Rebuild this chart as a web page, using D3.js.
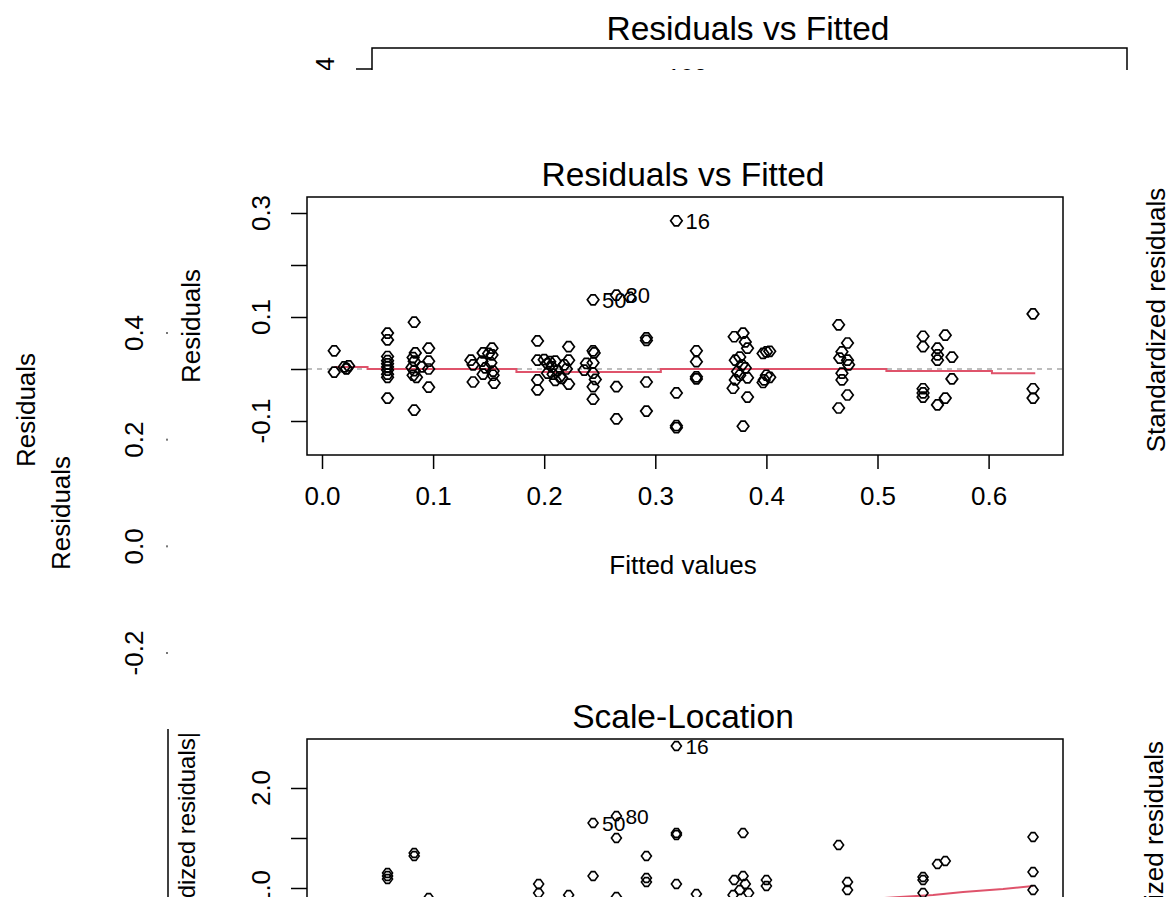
<!DOCTYPE html>
<html>
<head>
<meta charset="utf-8">
<script src="https://cdn.jsdelivr.net/npm/d3@7"></script>
<style>
  body { margin: 0; background: #fff; }
  text { font-family: "Liberation Sans", Arial, sans-serif; fill: #000; }
</style>
</head>
<body>
<svg id="chart" width="1175" height="897"></svg>
<script>
// ---- Residuals vs Fitted: fitted values and residuals ----
const fitted = [
  0.011, 0.011,
  0.020, 0.022, 0.024, 0.022,
  0.059, 0.059, 0.059, 0.059, 0.059, 0.059, 0.059, 0.059, 0.059, 0.059,
  0.083, 0.084, 0.082, 0.083, 0.081, 0.083, 0.082, 0.085, 0.083,
  0.090,
  0.096, 0.096, 0.096, 0.096,
  0.134, 0.136, 0.136,
  0.145, 0.144, 0.145, 0.147,
  0.153, 0.153, 0.152, 0.154, 0.154, 0.155, 0.150,
  0.194, 0.194, 0.194, 0.194,
  0.200, 0.203, 0.205, 0.207, 0.210, 0.212, 0.208, 0.214, 0.216, 0.210, 0.203, 0.218,
  0.222, 0.222, 0.222, 0.220,
  0.238, 0.236,
  0.244, 0.244, 0.245, 0.244, 0.244, 0.246, 0.244, 0.244,
  0.265, 0.265, 0.265,
  0.277,
  0.292, 0.292, 0.292, 0.292,
  0.319, 0.319, 0.319, 0.319,
  0.337, 0.337, 0.337, 0.337,
  0.371, 0.379, 0.381, 0.383, 0.372, 0.376, 0.381, 0.372, 0.370, 0.376, 0.383, 0.383, 0.379, 0.378, 0.374,
  0.400, 0.397, 0.403, 0.400, 0.398, 0.397, 0.403,
  0.465, 0.473, 0.468, 0.466, 0.473, 0.468, 0.468, 0.473, 0.465, 0.474,
  0.541, 0.541, 0.561, 0.554, 0.554, 0.554, 0.567, 0.567, 0.541, 0.541, 0.554, 0.561, 0.541,
  0.640, 0.640, 0.640
];
const residuals = [
  0.035, -0.006,
  0.004, 0.001, 0.006, 0.000,
  0.069, 0.056, 0.024, 0.016, 0.010, 0.004, -0.002, -0.010, -0.016, -0.056,
  0.090, 0.031, 0.022, 0.015, 0.003, -0.003, -0.012, -0.016, -0.079,
  0.004,
  0.040, 0.015, 0.000, -0.035,
  0.017, 0.008, -0.025,
  0.031, 0.015, -0.010, 0.002,
  0.040, 0.027, 0.012, -0.004, -0.012, -0.027, 0.030,
  0.054, 0.017, -0.021, -0.040,
  0.018, 0.010, 0.014, 0.004, 0.015, -0.003, -0.010, -0.015, -0.018, -0.022, -0.008, 0.008,
  0.043, 0.017, -0.029, 0.000,
  0.011, -0.002,
  0.133, 0.035, 0.031, 0.012, -0.008, -0.020, -0.034, -0.058,
  0.142, -0.034, -0.096,
  0.138,
  0.060, 0.055, -0.025, -0.081,
  0.285, -0.046, -0.109, -0.113,
  0.035, 0.014, -0.015, -0.019,
  0.062, 0.069, 0.052, 0.040, 0.017, 0.023, 0.002, -0.021, -0.037, -0.012, -0.017, -0.054, -0.110, 0.008, -0.005,
  0.033, 0.030, 0.034, -0.012, -0.021, -0.026, -0.016,
  0.085, 0.050, 0.033, 0.021, 0.017, -0.008, -0.021, -0.050, -0.075, 0.008,
  0.063, 0.043, 0.065, 0.040, 0.027, 0.017, 0.023, -0.019, -0.038, -0.054, -0.069, -0.056, -0.046,
  0.106, -0.038, -0.056
];
// labelled observations
const rvfLabelIds = ["16", "50", "80"];
const rvfLabelFitted = [0.319, 0.244, 0.265];
const rvfLabelResid = [0.285, 0.133, 0.142];
// smoother through the residuals
const smoothFitted = [0.011, 0.041, 0.041, 0.175, 0.175, 0.305, 0.305, 0.508, 0.508, 0.603, 0.603, 0.642];
const smoothResid  = [0.004, 0.004, 0.000, 0.000, -0.006, -0.006, 0.000, 0.000, -0.004, -0.004, -0.008, -0.008];

const xTicks = [0, 0.1, 0.2, 0.3, 0.4, 0.5, 0.6];
const rvfYTicks = [-0.1, 0, 0.1, 0.2, 0.3];
const rvfYLabels = [-0.1, 0.1, 0.3];

// ---- Scale-Location: sqrt(|standardized residuals|) ----
const slFitted = [
  0.059, 0.059, 0.059, 0.083, 0.083, 0.096, 0.195, 0.195, 0.222,
  0.244, 0.244, 0.265, 0.265, 0.265, 0.292, 0.292, 0.292,
  0.319, 0.319, 0.319, 0.319, 0.337,
  0.379, 0.371, 0.379, 0.381, 0.376, 0.384, 0.370,
  0.400, 0.400, 0.465, 0.473, 0.473,
  0.541, 0.541, 0.541, 0.554, 0.561,
  0.640, 0.640, 0.640
];
const slValue = [
  1.15, 1.12, 1.09, 1.35, 1.32, 0.90, 1.04, 0.95, 0.93,
  1.65, 1.12, 1.72, 1.50, 0.91, 1.32, 1.10, 1.06,
  2.42, 1.55, 1.53, 1.04, 0.94,
  1.55, 1.08, 1.12, 1.04, 0.98, 0.95, 0.93,
  1.08, 1.02, 1.43, 1.06, 0.98,
  1.11, 1.08, 0.95, 1.24, 1.27,
  1.51, 1.16, 0.98
];
const slLabelIds = ["16", "50", "80"];
const slLabelFitted = [0.319, 0.244, 0.265];
const slLabelValue = [2.42, 1.65, 1.72];
const slSmoothFitted = [0.45, 0.52, 0.55, 0.577, 0.613, 0.640];
const slSmoothValue  = [0.86, 0.91, 0.93, 0.96, 0.99, 1.02];
const slYTicks = [1.0, 1.5, 2.0];
const slYLabels = [1.0, 2.0];

// ---- axis of the panel behind, on the left ----
const backTicks = [-0.2, 0.0, 0.2, 0.4];

const svg = d3.select("#chart");
svg.append("rect").attr("width", 1175).attr("height", 897).attr("fill", "#fff");

// R-style numbers: one decimal, ASCII hyphen for negatives
const fmt = d => d3.format(".1f")(d).replace("\u2212", "-");
const RED = "#DF536B";

// open point symbol
function pointPath(w, h) {
  const f = w * 0.35;
  return `M${-w},0L${-f},${-h}L${f},${-h}L${w},0L${f},${h}L${-f},${h}Z`;
}

// rotated (las = 0) tick labels on a left axis
function leftLabels(g, scale, values, xBase, size) {
  g.selectAll(null).data(values).join("text")
    .attr("transform", d => `translate(${xBase},${scale(d)}) rotate(-90)`)
    .attr("text-anchor", "middle")
    .attr("font-size", size)
    .text(d => fmt(d));
}

// ================= panel behind, top (clipped) =================
svg.append("clipPath").attr("id", "topClip")
  .append("rect").attr("x", 0).attr("y", 0).attr("width", 1175).attr("height", 70);
const topG = svg.append("g").attr("clip-path", "url(#topClip)");
topG.append("text").attr("x", 748).attr("y", 40).attr("text-anchor", "middle")
  .attr("font-size", 33.5).text("Residuals vs Fitted");
topG.append("path").attr("fill", "none").attr("stroke", "#000").attr("stroke-width", 1.5)
  .attr("d", "M372,90V48H1127V90");
const yTop = d3.scaleLinear().domain([-0.2, 0.4]).range([390, 69]);
topG.append("g").selectAll("line").data([0.4]).join("line")
  .attr("x1", 356).attr("x2", 372).attr("y1", d => yTop(d)).attr("y2", d => yTop(d))
  .attr("stroke", "#000").attr("stroke-width", 1.5);
leftLabels(topG.append("g"), d => yTop(d) + 6, [0.4], 334, 26);
topG.append("text").attr("x", 667).attr("y", 86).attr("font-size", 24).text("102");

// ================= panel behind, left side =================
const yBack = d3.scaleLinear().domain([-0.2, 0.4]).range([653, 333]);
const backG = svg.append("g");
backG.append("text").attr("transform", "translate(35,410) rotate(-90)")
  .attr("text-anchor", "middle").attr("font-size", 26).text("Residuals");
backG.append("text").attr("transform", "translate(70,513) rotate(-90)")
  .attr("text-anchor", "middle").attr("font-size", 26).text("Residuals");
leftLabels(backG.append("g"), yBack, backTicks, 143, 26);
backG.selectAll("rect.dot").data(backTicks).join("rect")
  .attr("class", "dot")
  .attr("x", 166).attr("y", d => yBack(d) - 1).attr("width", 2).attr("height", 2)
  .attr("fill", "#777");

// ================= Residuals vs Fitted =================
const box = { left: 307, right: 1063, top: 197, bottom: 455 };
const x = d3.scaleLinear().domain([0, 0.6]).range([322, 988.6]);
const y = d3.scaleLinear().domain([-0.1, 0.3]).range([421, 213]);

const rvf = svg.append("g");
rvf.append("text").attr("x", 683).attr("y", 186).attr("text-anchor", "middle")
  .attr("font-size", 33.5).text("Residuals vs Fitted");

// zero reference line
rvf.append("line")
  .attr("x1", box.left).attr("x2", box.right).attr("y1", y(0)).attr("y2", y(0))
  .attr("stroke", "#a8a8a8").attr("stroke-width", 1.5).attr("stroke-dasharray", "5,5");

// smoother
rvf.append("path")
  .datum(d3.range(smoothFitted.length))
  .attr("fill", "none").attr("stroke", RED).attr("stroke-width", 2)
  .attr("d", d3.line().x(i => x(smoothFitted[i])).y(i => y(smoothResid[i])));

// points
rvf.append("g").selectAll("path").data(d3.range(fitted.length)).join("path")
  .attr("transform", i => `translate(${x(fitted[i])},${y(residuals[i])})`)
  .attr("d", pointPath(5.8, 5.0))
  .attr("fill", "none").attr("stroke", "#000").attr("stroke-width", 1.7);

// point labels
rvf.append("g").selectAll("text").data(d3.range(rvfLabelIds.length)).join("text")
  .attr("x", i => x(rvfLabelFitted[i]) + 9)
  .attr("y", i => y(rvfLabelResid[i]) + 8)
  .attr("font-size", 22)
  .text(i => rvfLabelIds[i]);

// frame
rvf.append("rect")
  .attr("x", box.left).attr("y", box.top)
  .attr("width", box.right - box.left).attr("height", box.bottom - box.top)
  .attr("fill", "none").attr("stroke", "#000").attr("stroke-width", 1.5);

// x axis
const xAxisG = rvf.append("g").attr("transform", `translate(0,${box.bottom})`)
  .call(d3.axisBottom(x).tickValues(xTicks).tickFormat(fmt).tickSize(14).tickSizeOuter(0).tickPadding(18));
xAxisG.select(".domain").remove();
xAxisG.selectAll(".tick line").attr("stroke", "#000").attr("stroke-width", 1.5);
xAxisG.selectAll(".tick text").attr("font-size", 26)
  .attr("font-family", "'Liberation Sans', Arial, sans-serif").attr("fill", "#000");

// y axis
const yAxisG = rvf.append("g").attr("transform", `translate(${box.left},0)`)
  .call(d3.axisLeft(y).tickValues(rvfYTicks).tickFormat("").tickSize(16).tickSizeOuter(0));
yAxisG.select(".domain").remove();
yAxisG.selectAll(".tick line").attr("stroke", "#000").attr("stroke-width", 1.5);
leftLabels(rvf.append("g"), y, rvfYLabels, 270, 26);

rvf.append("text").attr("x", 683).attr("y", 574).attr("text-anchor", "middle")
  .attr("font-size", 26).text("Fitted values");
rvf.append("text").attr("transform", `translate(200,${(box.top + box.bottom) / 2}) rotate(-90)`)
  .attr("text-anchor", "middle").attr("font-size", 26).text("Residuals");

// ================= right side labels =================
svg.append("text").attr("transform", "translate(1165,320) rotate(-90)")
  .attr("text-anchor", "middle").attr("font-size", 26).text("Standardized residuals");
svg.append("text").attr("transform", "translate(1163,741) rotate(-90)")
  .attr("text-anchor", "end").attr("font-size", 26).text("Standardized residuals");

// ================= Scale-Location =================
const slBox = { left: 307, right: 1063, top: 739, bottom: 1100 };
const ySL = d3.scaleLinear().domain([1.0, 2.0]).range([888, 788]);
const sl = svg.append("g");
sl.append("text").attr("x", 683).attr("y", 728).attr("text-anchor", "middle")
  .attr("font-size", 33.5).text("Scale-Location");

sl.append("path")
  .datum(d3.range(slSmoothFitted.length))
  .attr("fill", "none").attr("stroke", RED).attr("stroke-width", 2)
  .attr("d", d3.line().x(i => x(slSmoothFitted[i])).y(i => ySL(slSmoothValue[i])));

sl.append("g").selectAll("path").data(d3.range(slFitted.length)).join("path")
  .attr("transform", i => `translate(${x(slFitted[i])},${ySL(slValue[i])})`)
  .attr("d", pointPath(5.0, 4.4))
  .attr("fill", "none").attr("stroke", "#000").attr("stroke-width", 1.6);

sl.append("g").selectAll("text").data(d3.range(slLabelIds.length)).join("text")
  .attr("x", i => x(slLabelFitted[i]) + 9)
  .attr("y", i => ySL(slLabelValue[i]) + 8)
  .attr("font-size", 21)
  .text(i => slLabelIds[i]);

sl.append("rect")
  .attr("x", slBox.left).attr("y", slBox.top)
  .attr("width", slBox.right - slBox.left).attr("height", slBox.bottom - slBox.top)
  .attr("fill", "none").attr("stroke", "#000").attr("stroke-width", 1.5);

const slAxisG = sl.append("g").attr("transform", `translate(${slBox.left},0)`)
  .call(d3.axisLeft(ySL).tickValues(slYTicks).tickFormat("").tickSize(16).tickSizeOuter(0));
slAxisG.select(".domain").remove();
slAxisG.selectAll(".tick line").attr("stroke", "#000").attr("stroke-width", 1.5);
leftLabels(sl.append("g"), ySL, slYLabels, 270, 26);

// y title: radical bar over |Standardized residuals|
sl.append("line").attr("x1", 168).attr("x2", 168).attr("y1", 729).attr("y2", 1100)
  .attr("stroke", "#000").attr("stroke-width", 1.5);
sl.append("text").attr("transform", "translate(195,732) rotate(-90)")
  .attr("text-anchor", "end").attr("font-size", 24).text("|Standardized residuals|");
</script>
</body>
</html>
